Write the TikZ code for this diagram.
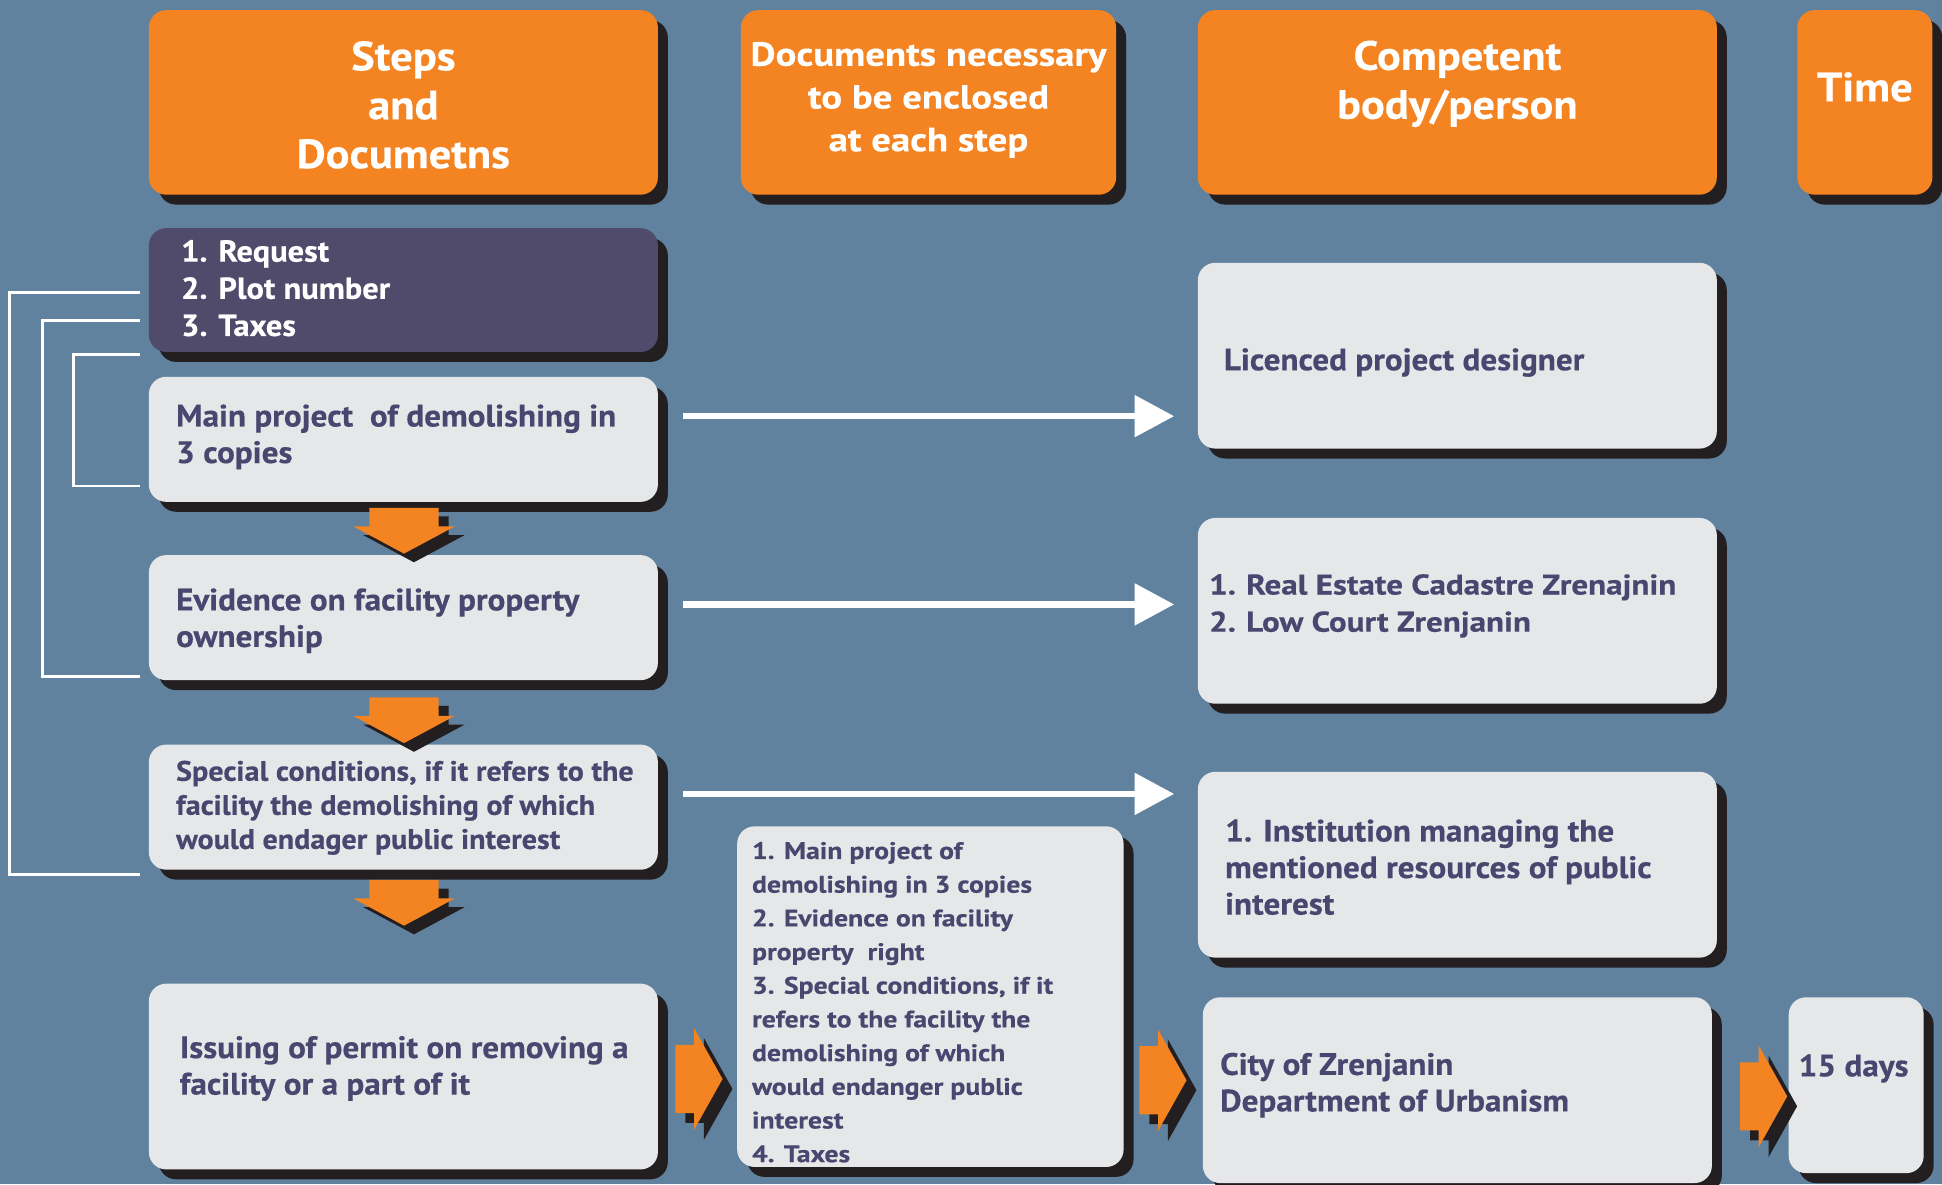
\documentclass[tikz,border=0pt]{standalone}
\usepackage{fontspec}
\setmainfont{PT Sans}
\newfontfamily\condf{PT Sans}[FakeStretch=1.07,FakeBold=0.4]
\newfontfamily\hdrf{PT Sans}[FakeStretch=1.09,FakeBold=0.4]
\newfontfamily\widef{PT Sans}[FakeStretch=1.16,FakeBold=0.4]
\usetikzlibrary{shadows,arrows.meta,calc}
\definecolor{bgc}{RGB}{96,130,158}
\definecolor{orc}{RGB}{244,131,34}
\definecolor{grc}{RGB}{230,231,233}
\definecolor{dkc}{RGB}{80,75,107}
\definecolor{txc}{RGB}{74,70,112}
\definecolor{shc}{RGB}{35,31,32}
\begin{document}
\begin{tikzpicture}[x=1pt,y=-1pt,
  shad/.style={drop shadow={shadow xshift=8pt,shadow yshift=-8pt,fill=shc,opacity=1}},
  boxbase/.style={shad,rounded corners=14pt,anchor=north west,inner sep=0pt},
  hdrbox/.style={boxbase,fill=orc},
  graybox/.style={boxbase,fill=grc},
  darkbox/.style={boxbase,fill=dkc},
  hdrtext/.style={align=center,text=white,inner sep=0pt,font=\hdrf\bfseries\fontsize{33}{39.5}\selectfont},
  bodytext/.style={anchor=west,align=left,text=txc,inner sep=0pt,font=\condf\bfseries\fontsize{25}{29.5}\selectfont},
  widetext/.style={bodytext,font=\widef\bfseries\fontsize{19.3}{27.2}\selectfont},
  bracket/.style={draw=white,line width=2.4pt},
  warrow/.style={draw=white,line width=5pt,-{Triangle[length=32pt,width=33pt]}},
  downarr/.pic={
    \fill[shc,shift={(8,7)}] (-28,-37) -- (28,-37) -- (28,-22) -- (41,-22) -- (0,0) -- (-41,-22) -- (-28,-22) -- cycle;
    \fill[orc] (-28,-37) -- (28,-37) -- (28,-22) -- (41,-22) -- (0,0) -- (-41,-22) -- (-28,-22) -- cycle;
  },
  rightarr/.pic={
    \fill[shc,shift={(8,8)}] (-38,-27.5) -- (-23,-27.5) -- (-23,-41) -- (0,0) -- (-23,41) -- (-23,27.5) -- (-38,27.5) -- cycle;
    \fill[orc] (-38,-27.5) -- (-23,-27.5) -- (-23,-41) -- (0,0) -- (-23,41) -- (-23,27.5) -- (-38,27.5) -- cycle;
  }
]
\useasboundingbox (0,0) rectangle (1568,956);
\fill[bgc] (0,0) rectangle (1568,956);

% header boxes
\node[hdrbox,minimum width=411pt,minimum height=149pt] (h1) at (120,8) {};
\node[hdrbox,minimum width=303pt,minimum height=149pt] (h2) at (598,8) {};
\node[hdrbox,minimum width=419pt,minimum height=149pt] (h3) at (967,8) {};
\node[hdrbox,minimum width=109pt,minimum height=149pt] (h4) at (1451,8) {};

% left column
\node[darkbox,minimum width=411pt,minimum height=100pt] (req) at (120,184) {};
\node[graybox,minimum width=411pt,minimum height=101pt] (main) at (120,304) {};
\node[graybox,minimum width=411pt,minimum height=101pt] (evid) at (120,448) {};
\node[graybox,minimum width=411pt,minimum height=101pt] (spec) at (120,601) {};
\node[graybox,minimum width=411pt,minimum height=150pt] (issue) at (120,794) {};

% middle
\node[graybox,minimum width=312pt,minimum height=275pt] (docs) at (595,667) {};

% right column
\node[graybox,minimum width=419pt,minimum height=150pt] (lic) at (967,212) {};
\node[graybox,minimum width=419pt,minimum height=150pt] (cad) at (967,418) {};
\node[graybox,minimum width=419pt,minimum height=150pt] (inst) at (967,623) {};
\node[graybox,minimum width=411pt,minimum height=150pt] (city) at (971,805) {};
\node[graybox,minimum width=109pt,minimum height=142pt] (days) at (1444,805) {};

% brackets
\draw[bracket] ($(req.north west)+(-7,52)$) -- ++(-105,0) |- ($(spec.south west)+(-7,4)$);
\draw[bracket] ($(req.north west)+(-7,75)$) -- ++(-79,0) |- ($(evid.south west)+(-7,-3)$);
\draw[bracket] ($(req.south west)+(-7,2)$) -- ++(-54,0) |- ($(main.south west)+(-7,-13)$);

% white arrows
\coordinate (w1) at ($(main.north east)+(20,32)$);
\coordinate (w2) at ($(evid.north east)+(20,40)$);
\coordinate (w3) at ($(spec.north east)+(20,40)$);
\draw[warrow] (w1) -- ($(w1 -| lic.west)+(-19,0)$);
\draw[warrow] (w2) -- ($(w2 -| cad.west)+(-19,0)$);
\draw[warrow] (w3) -- ($(w3 -| inst.west)+(-19,0)$);

% orange arrows
\pic at ($(evid.north)+(0.5,-1)$) {downarr};
\pic at ($(spec.north)+(0.5,-1)$) {downarr};
\pic at ($(spec.south)+(0.5,45)$) {downarr};
\pic at ($(issue.east)+(52,2)$) {rightarr};
\pic at ($(city.west)+(-13,-8)$) {rightarr};
\pic at ($(days.west)+(-1,9)$) {rightarr};

% texts
\node[hdrtext] (h1t) at ($(h1.center)+(0,2)$) {Steps\\and\\Documetns};
\node[hdrtext,font=\widef\bfseries\fontsize{27}{34.5}\selectfont] (h2t) at ($(h2.center)+(0,-2)$) {Documents necessary\\to be enclosed\\at each step};
\node[hdrtext] (h3t) at ($(h3.center)+(0,-15)$) {Competent\\body/person};
\node[hdrtext] (h4t) at ($(h4.center)+(0,-12.5)$) {Time};

\node[bodytext,text=white,font=\condf\bfseries\fontsize{24.5}{30}\selectfont] (reqt) at ($(req.west)+(26,-1.5)$) {1. Request\\2. Plot number\\3. Taxes};
\node[bodytext] (maint) at ($(main.west)+(22,-2)$) {Main project~~of demolishing in\\3 copies};
\node[bodytext] (evidt) at ($(evid.west)+(22,2.5)$) {Evidence on facility property\\ownership};
\node[bodytext,font=\condf\bfseries\fontsize{22.7}{27.5}\selectfont] (spect) at ($(spec.west)+(22,0.5)$) {Special conditions, if it refers to the\\facility the demolishing of which\\would endager public interest};
\node[bodytext] (issuet) at ($(issue.west)+(25,-6.5)$) {Issuing of permit on removing a\\facility or a part of it};
\node[widetext] (docst) at ($(docs.west)+(12,4.5)$) {1. Main project of\\demolishing in 3 copies\\2. Evidence on facility\\property~~right\\3. Special conditions, if it\\refers to the facility the\\demolishing of which\\would endanger public\\interest\\4. Taxes};
\node[bodytext] (lict) at ($(lic.west)+(21,5.5)$) {Licenced project designer};
\node[widetext,font=\widef\bfseries\fontsize{23}{30}\selectfont] (cadt) at ($(cad.west)+(9,-4)$) {\makebox[30pt][l]{1.}Real Estate Cadastre Zrenajnin\\\makebox[30pt][l]{2.}Low Court Zrenjanin};
\node[bodytext] (instt) at ($(inst.west)+(22,2)$) {1. Institution managing the\\mentioned resources of public\\interest};
\node[bodytext] (cityt) at ($(city.west)+(14,-4)$) {City of Zrenjanin\\Department of Urbanism};
\node[bodytext] (dayst) at ($(days.west)+(8,-13.5)$) {15 days};
\end{tikzpicture}
\end{document}
